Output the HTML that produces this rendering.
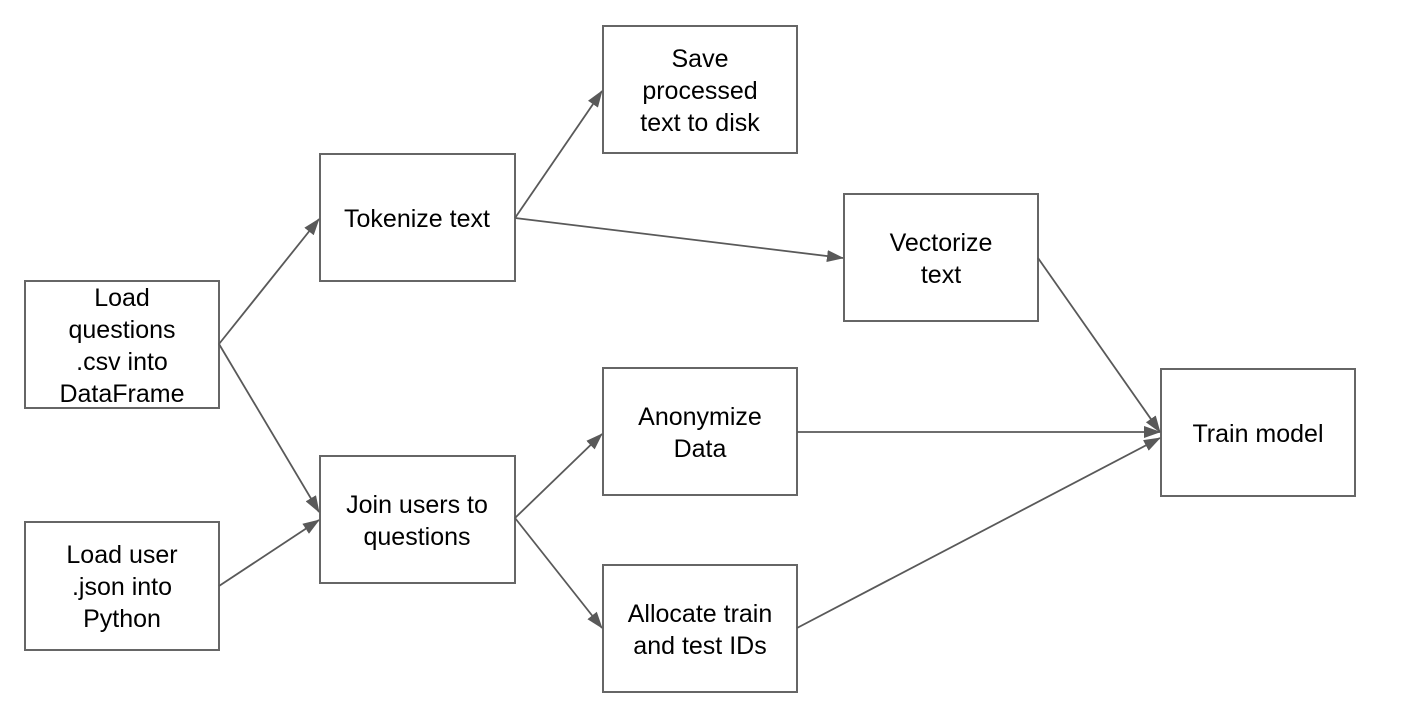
<!DOCTYPE html>
<html><head><style>
body{margin:0;background:#fff;}
svg text{font-family:"Liberation Sans",Arial,sans-serif;font-size:25px;fill:#000;text-anchor:middle;}
</style></head><body>
<svg width="1404" height="702" xmlns="http://www.w3.org/2000/svg">
<defs><marker id="a" markerWidth="17" markerHeight="12" refX="16" refY="6" orient="auto" markerUnits="userSpaceOnUse"><path d="M0,0 L17,6 L0,12 Z" fill="#595959"/></marker></defs>
<g fill="none" stroke="#666" stroke-width="2">
<rect x="25" y="281" width="194" height="127"/>
<rect x="25" y="522" width="194" height="128"/>
<rect x="320" y="154" width="195" height="127"/>
<rect x="320" y="456" width="195" height="127"/>
<rect x="603" y="26" width="194" height="127"/>
<rect x="844" y="194" width="194" height="127"/>
<rect x="603" y="368" width="194" height="127"/>
<rect x="603" y="565" width="194" height="127"/>
<rect x="1161" y="369" width="194" height="127"/>
</g>
<g stroke="#595959" stroke-width="1.8" marker-end="url(#a)">
<line x1="219" y1="344" x2="319" y2="219"/>
<line x1="219" y1="344" x2="319" y2="512"/>
<line x1="219" y1="586" x2="319" y2="520"/>
<line x1="515" y1="218" x2="602" y2="91"/>
<line x1="515" y1="218" x2="843" y2="258"/>
<line x1="515" y1="518" x2="602" y2="434"/>
<line x1="515" y1="518" x2="602" y2="628"/>
<line x1="1038" y1="258" x2="1160" y2="432"/>
<line x1="797" y1="432" x2="1160" y2="432"/>
<line x1="797" y1="628" x2="1160" y2="438"/>
</g>
<g>
<text x="122" y="306">Load</text>
<text x="122" y="338">questions</text>
<text x="122" y="370">.csv into</text>
<text x="122" y="402">DataFrame</text>
<text x="122" y="563">Load user</text>
<text x="122" y="595">.json into</text>
<text x="122" y="627">Python</text>
<text x="417" y="227">Tokenize text</text>
<text x="417" y="513">Join users to</text>
<text x="417" y="545">questions</text>
<text x="700" y="67">Save</text>
<text x="700" y="99">processed</text>
<text x="700" y="131">text to disk</text>
<text x="941" y="251">Vectorize</text>
<text x="941" y="283">text</text>
<text x="700" y="425">Anonymize</text>
<text x="700" y="457">Data</text>
<text x="700" y="622">Allocate train</text>
<text x="700" y="654">and test IDs</text>
<text x="1258" y="442">Train model</text>
</g>
</svg>
</body></html>
